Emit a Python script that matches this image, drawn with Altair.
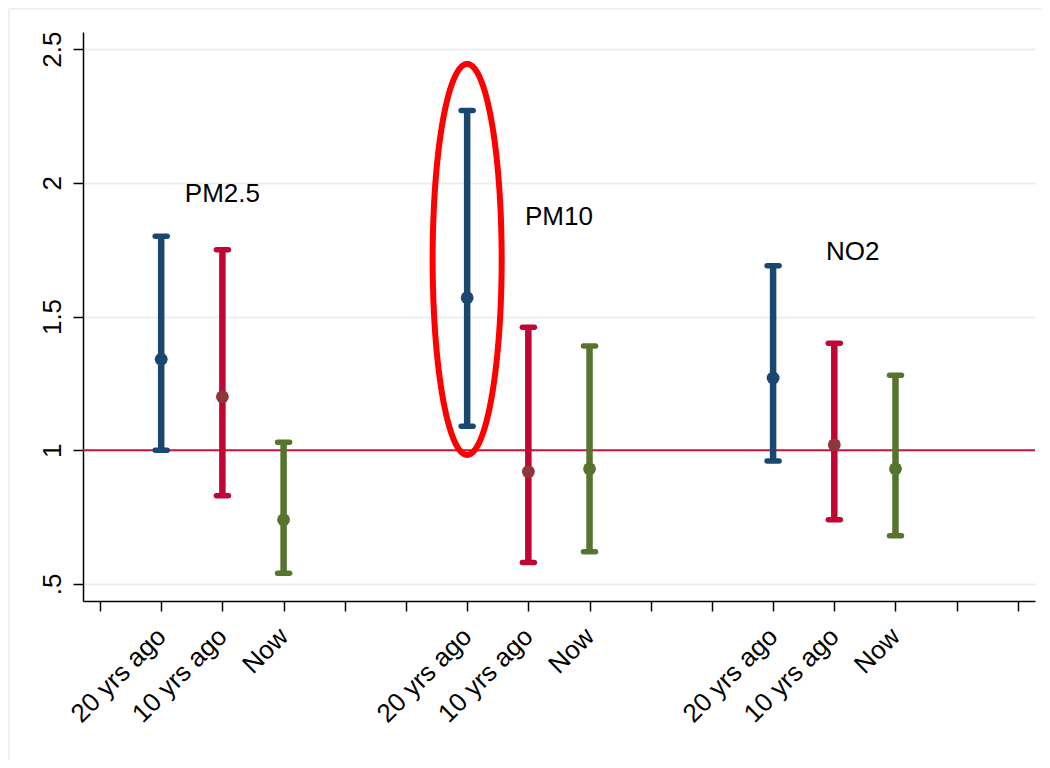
import altair as alt
import pandas as pd
import numpy as np

# ---- data ----
pollutants = ["PM2.5", "PM2.5", "PM2.5", "PM10", "PM10", "PM10", "NO2", "NO2", "NO2"]
periods = ["20 yrs ago", "10 yrs ago", "Now"] * 3
positions = [1, 2, 3, 6, 7, 8, 11, 12, 13]
estimate = [1.34, 1.20, 0.74, 1.57, 0.92, 0.93, 1.27, 1.02, 0.93]
lower = [1.00, 0.83, 0.54, 1.09, 0.58, 0.62, 0.96, 0.74, 0.68]
upper = [1.80, 1.75, 1.03, 2.27, 1.46, 1.39, 1.69, 1.40, 1.28]

bar_colors = {"20 yrs ago": "#1a476f", "10 yrs ago": "#c10534", "Now": "#55752f"}
dot_colors = {"20 yrs ago": "#1a476f", "10 yrs ago": "#90353b", "Now": "#55752f"}

group_labels = ["PM2.5", "PM10", "NO2"]
group_label_x = [2.0, 7.5, 12.3]
group_label_y = [1.93, 1.842, 1.712]

x_ticks = list(range(16))
x_tick_labels = ["", "20 yrs ago", "10 yrs ago", "Now", "", "",
                 "20 yrs ago", "10 yrs ago", "Now", "", "",
                 "20 yrs ago", "10 yrs ago", "Now", "", ""]
y_ticks = [0.5, 1.0, 1.5, 2.0, 2.5]
ref_value = [1.0]

# highlight ellipse (annotation) : centre and radii in data units
ell_cx, ell_cy, ell_rx, ell_ry = 6.0, 1.7135, 0.564, 0.731

df = pd.DataFrame({
    "pollutant": pollutants, "period": periods, "pos": positions,
    "est": estimate, "lo": lower, "hi": upper,
})
df["bar_color"] = df["period"].map(bar_colors)
df["dot_color"] = df["period"].map(dot_colors)

t = np.linspace(0, 2 * np.pi, 241)
ell = pd.DataFrame({"x": ell_cx + ell_rx * np.cos(t),
                    "y": ell_cy + ell_ry * np.sin(t),
                    "o": np.arange(len(t))})

lab = pd.DataFrame({"text": group_labels, "x": group_label_x, "y": group_label_y})
ref = pd.DataFrame({"y": ref_value})

FONT = "Liberation Sans"
FS = 26
W, H = 952, 569
PAD = {"left": 75, "top": 24, "right": 7, "bottom": 159}

xscale = alt.Scale(domain=[-0.278, 15.28], nice=False, zero=False)
yscale = alt.Scale(domain=[0.436, 2.564], nice=False, zero=False)

label_expr = "[" + ",".join("'" + s + "'" for s in x_tick_labels) + "][datum.value]"

x_axis = alt.Axis(values=x_ticks, labelExpr=label_expr, title=None, grid=False,
                  labelAngle=315, labelFontSize=FS, labelFont=FONT, labelColor="black",
                  labelAlign="right", labelBaseline="middle", labelPadding=21,
                  domainColor="black", domainWidth=1.5, tickColor="black", tickWidth=1.5,
                  tickSize=10, labelOverlap=False, labelFlush=False)
y_axis = alt.Axis(values=y_ticks, title=None, grid=True, gridColor="#e8eff2", gridWidth=2,
                  labelExpr="datum.value == 0.5 ? '.5' : datum.label", format="~g",
                  labelAngle=270, labelFontSize=FS, labelFont=FONT, labelColor="black",
                  labelAlign="center", labelBaseline="bottom", labelPadding=8,
                  domainColor="black", domainWidth=1.5, tickColor="black", tickWidth=1.5,
                  tickSize=10, labelOverlap=False, labelFlush=False)

base = alt.Chart(df)

frame = alt.Chart(ref).mark_rule(color="#e6eef1", strokeWidth=1.5).encode(
    x=alt.value(-PAD["left"] + 1), x2=alt.value(W + PAD["right"]),
    y=alt.value(-PAD["top"] + 1))
frame_left = alt.Chart(ref).mark_rule(color="#e6eef1", strokeWidth=1.5).encode(
    x=alt.value(-PAD["left"] + 1), y=alt.value(-PAD["top"] + 1),
    y2=alt.value(H + PAD["bottom"]))

refline = alt.Chart(ref).mark_rule(color="#c8153f", strokeWidth=2).encode(
    y=alt.Y("y:Q", scale=yscale, axis=y_axis))

bars = base.mark_rule(strokeWidth=6.5).encode(
    x=alt.X("pos:Q", scale=xscale, axis=x_axis),
    y=alt.Y("lo:Q", scale=yscale),
    y2="hi:Q",
    color=alt.Color("bar_color:N", scale=None))

cap_lo = base.mark_rule(strokeWidth=5.5, strokeCap="round", xOffset=-6, x2Offset=6).encode(
    x="pos:Q", x2="pos:Q", y="lo:Q", color=alt.Color("bar_color:N", scale=None))
cap_hi = base.mark_rule(strokeWidth=5.5, strokeCap="round", xOffset=-6, x2Offset=6).encode(
    x="pos:Q", x2="pos:Q", y="hi:Q", color=alt.Color("bar_color:N", scale=None))

dots = base.mark_circle(size=165, opacity=1).encode(
    x="pos:Q", y="est:Q", color=alt.Color("dot_color:N", scale=None))

ellipse = alt.Chart(ell).mark_line(color="#ff0000", strokeWidth=6).encode(
    x=alt.X("x:Q", scale=xscale), y=alt.Y("y:Q", scale=yscale), order="o:Q")

labels = alt.Chart(lab).mark_text(fontSize=FS, font=FONT, color="black",
                                  align="center", baseline="alphabetic").encode(
    x=alt.X("x:Q", scale=xscale), y=alt.Y("y:Q", scale=yscale), text="text:N")

chart = alt.layer(frame, frame_left, refline, bars, cap_lo, cap_hi, dots, ellipse, labels).properties(
    width=W, height=H, padding=PAD,
    autosize=alt.AutoSizeParams(type="none"),
    background="white",
).configure_view(stroke=None)

chart.save("out.html", embed_options={"renderer": "svg", "actions": False})
